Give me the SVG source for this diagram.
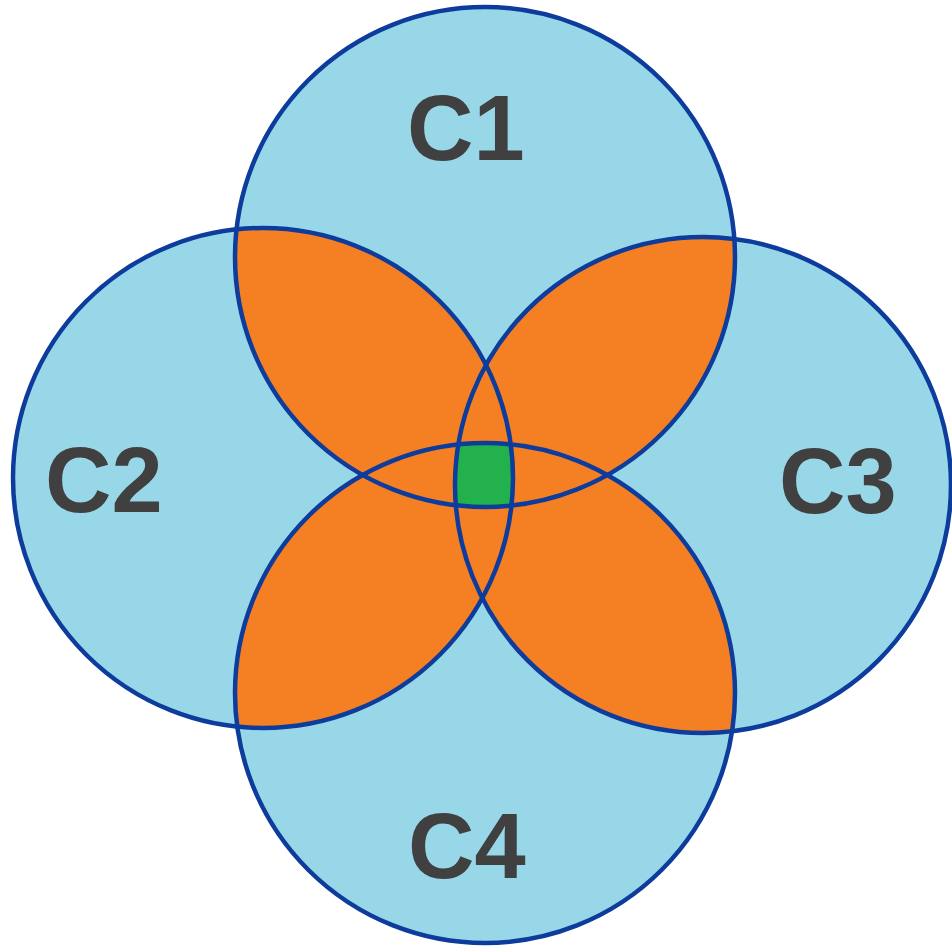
<svg xmlns="http://www.w3.org/2000/svg" width="952" height="946" viewBox="0 0 952 946">
  <style>
    .fill { fill: #98d7e8; }
    .ring { fill: none; stroke: #0d3c9c; stroke-width: 4.5; }
    .orange { fill: #f57f23; }
    .green { fill: #22b14c; }
    .lbl { font-family: "Liberation Sans", Arial, sans-serif; font-weight: bold; font-size: 92px; fill: #404040; }
  </style>
  <defs>
    <circle id="c1" cx="485" cy="257" r="250"/>
    <circle id="c2" cx="263" cy="478" r="250"/>
    <circle id="c3" cx="703" cy="485" r="248"/>
    <circle id="c4" cx="485" cy="693" r="250"/>
    <clipPath id="k1"><use href="#c1"/></clipPath>
    <clipPath id="k2"><use href="#c2"/></clipPath>
    <clipPath id="k3"><use href="#c3"/></clipPath>
    <clipPath id="k4"><use href="#c4"/></clipPath>
  </defs>
  <rect width="952" height="946" fill="#ffffff"/>
  <g id="fills">
    <use href="#c1" class="fill"/>
    <use href="#c2" class="fill"/>
    <use href="#c3" class="fill"/>
    <use href="#c4" class="fill"/>
  </g>
  <g id="overlaps">
    <g clip-path="url(#k1)"><use href="#c2" class="orange"/><use href="#c3" class="orange"/></g>
    <g clip-path="url(#k4)"><use href="#c2" class="orange"/><use href="#c3" class="orange"/></g>
    <g clip-path="url(#k1)"><g clip-path="url(#k2)"><g clip-path="url(#k3)"><use href="#c4" class="green"/></g></g></g>
  </g>
  <g id="C1"><use href="#c1" class="ring"/><text class="lbl" x="407" y="160">C1</text></g>
  <g id="C2"><use href="#c2" class="ring"/><text class="lbl" x="45" y="512">C2</text></g>
  <g id="C3"><use href="#c3" class="ring"/><text class="lbl" x="779" y="513">C3</text></g>
  <g id="C4"><use href="#c4" class="ring"/><text class="lbl" x="408" y="878">C4</text></g>
</svg>
